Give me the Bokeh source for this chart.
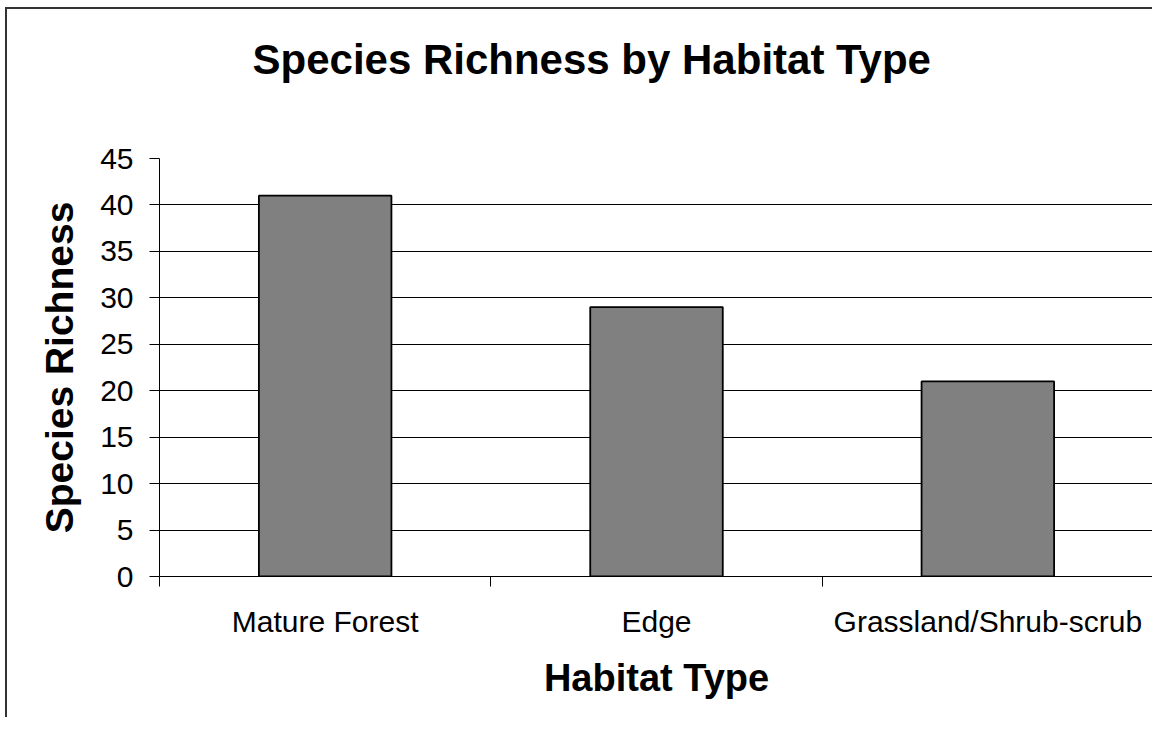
from bokeh.plotting import figure
from bokeh.models import FixedTicker, Range1d, ColumnDataSource, Title
from bokeh.embed import file_html
from bokeh.resources import INLINE

# ---- data ----
categories = ["Mature Forest", "Edge", "Grassland/Shrub-scrub"]
richness = [41, 29, 21]
y_ticks = [0, 5, 10, 15, 20, 25, 30, 35, 40, 45]
title_text = "Species Richness by Habitat Type"
x_label = "Habitat Type"
y_label = "Species Richness"

positions = [i + 0.5 for i in range(len(categories))]
boundaries = list(range(len(categories) + 1))

FONT = "Liberation Sans"

src = ColumnDataSource(dict(x=positions, top=richness, cat=categories))

p = figure(width=1147, height=710, output_backend="svg", toolbar_location=None,
           x_range=Range1d(0, len(categories)), y_range=Range1d(y_ticks[0], y_ticks[-1]),
           min_border_left=152, min_border_right=1, min_border_top=149, min_border_bottom=143,
           background_fill_color="white", border_fill_color="white")
p.outline_line_color = None
p.styles = {"border-left": "2px solid #333333", "border-top": "2px solid #333333",
            "margin-left": "5px", "margin-top": "7px"}

# spacer between the frame and the chart title, then the title itself
spacer = Title(text=" ", text_font_size="1px", standoff=73)
p.add_layout(spacer, "above")
main_title = Title(text=title_text, text_font=FONT, text_font_size="42px",
                   text_font_style="bold", text_color="black",
                   align="left", offset=93, standoff=0)
p.add_layout(main_title, "above")

p.vbar(x="x", top="top", bottom=0, width=0.4, source=src,
       fill_color="#808080", line_color="black", line_width=1.8)

# grid
p.xgrid.visible = False
p.ygrid.ticker = FixedTicker(ticks=y_ticks)
p.ygrid.grid_line_color = "black"
p.ygrid.grid_line_width = 1

# y axis
ya = p.yaxis[0]
ya.ticker = FixedTicker(ticks=y_ticks)
ya.axis_line_color = "black"
ya.major_tick_line_color = "black"
ya.major_tick_in = 0
ya.major_tick_out = 10
ya.minor_tick_line_color = None
ya.major_label_standoff = 16
ya.major_label_text_font = FONT
ya.major_label_text_font_size = "30px"
ya.major_label_text_color = "black"
ya.axis_label = y_label
ya.axis_label_text_font = FONT
ya.axis_label_text_font_size = "39px"
ya.axis_label_text_font_style = "bold"
ya.axis_label_text_color = "black"
ya.axis_label_standoff = 16

# x axis
xa = p.xaxis[0]
xa.ticker = FixedTicker(ticks=positions, minor_ticks=boundaries)
xa.major_label_overrides = {pos: cat for pos, cat in zip(positions, categories)}
xa.axis_line_color = "black"
xa.major_tick_in = 0
xa.major_tick_out = 0
xa.major_tick_line_color = None
xa.minor_tick_in = 0
xa.minor_tick_out = 10
xa.minor_tick_line_color = "black"
xa.major_label_standoff = 18
xa.major_label_text_font = FONT
xa.major_label_text_font_size = "30px"
xa.major_label_text_color = "black"
xa.axis_label = x_label
xa.axis_label_text_font = FONT
xa.axis_label_text_font_size = "38px"
xa.axis_label_text_font_style = "bold"
xa.axis_label_text_color = "black"
xa.axis_label_standoff = 16

open("out.html", "w").write(file_html(p, INLINE))
